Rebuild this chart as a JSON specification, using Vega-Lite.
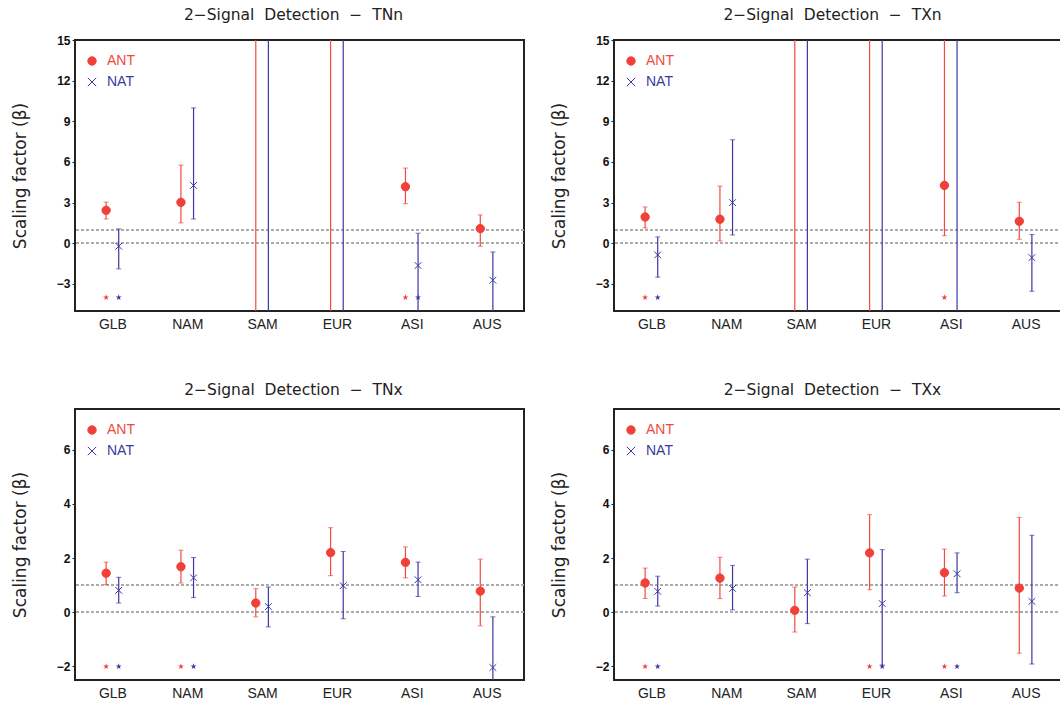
{
  "$schema": "https://vega.github.io/schema/vega-lite/v6.json",
  "background": "white",
  "padding": {"left": 10, "top": 6, "right": 0, "bottom": 0},
  "config": {
    "font": "Liberation Sans",
    "view": {"stroke": "#222", "strokeWidth": 2},
    "axisY": {"tickSize": 3, "tickColor": "#222", "tickWidth": 1, "labelFont": "Liberation Sans", "labelFontWeight": "bold", "labelFontSize": 12, "labelColor": "#111", "labelPadding": 2, "domain": false, "grid": false, "titleFont": "DejaVu Sans", "titleFontSize": 17, "titleFontWeight": "normal", "titleColor": "#222", "titlePadding": 27},
    "axisX": {"ticks": false, "domain": false, "grid": false, "labelFont": "Liberation Sans", "labelFontSize": 14, "labelColor": "#222", "labelPadding": 6, "labelAngle": 0},
    "title": {"font": "DejaVu Sans", "fontSize": 15.5, "fontWeight": "normal", "color": "#222", "offset": 11, "dx": -6},
    "legend": {"title": null, "orient": "none", "legendX": 10, "legendY": 14, "symbolSize": 70, "symbolStrokeWidth": 1, "labelFontSize": 14, "labelFont": "Liberation Sans", "labelOffset": 8, "rowPadding": 7, "padding": 0, "labelColor": {"expr": "datum.value === 'ANT' ? '#f04a40' : '#3c38a0'"}}
  },
  "datasets": {
    "d": [
      {"panel": "TNn", "region": "GLB", "series": "ANT", "beta": 2.43, "lo": 1.79, "hi": 3.04, "sig": true},
      {"panel": "TNn", "region": "GLB", "series": "NAT", "beta": -0.22, "lo": -1.89, "hi": 1.06, "sig": true},
      {"panel": "TNn", "region": "NAM", "series": "ANT", "beta": 3.02, "lo": 1.5, "hi": 5.77, "sig": false},
      {"panel": "TNn", "region": "NAM", "series": "NAT", "beta": 4.27, "lo": 1.79, "hi": 9.99, "sig": false},
      {"panel": "TNn", "region": "SAM", "series": "ANT", "beta": null, "lo": -50, "hi": 50, "sig": false},
      {"panel": "TNn", "region": "SAM", "series": "NAT", "beta": null, "lo": -50, "hi": 50, "sig": false},
      {"panel": "TNn", "region": "EUR", "series": "ANT", "beta": null, "lo": -50, "hi": 50, "sig": false},
      {"panel": "TNn", "region": "EUR", "series": "NAT", "beta": null, "lo": -50, "hi": 50, "sig": false},
      {"panel": "TNn", "region": "ASI", "series": "ANT", "beta": 4.17, "lo": 2.92, "hi": 5.55, "sig": true},
      {"panel": "TNn", "region": "ASI", "series": "NAT", "beta": -1.64, "lo": -8, "hi": 0.74, "sig": true},
      {"panel": "TNn", "region": "AUS", "series": "ANT", "beta": 1.08, "lo": -0.22, "hi": 2.09, "sig": false},
      {"panel": "TNn", "region": "AUS", "series": "NAT", "beta": -2.73, "lo": -8, "hi": -0.64, "sig": false},

      {"panel": "TXn", "region": "GLB", "series": "ANT", "beta": 1.94, "lo": 1.13, "hi": 2.68, "sig": true},
      {"panel": "TXn", "region": "GLB", "series": "NAT", "beta": -0.86, "lo": -2.5, "hi": 0.47, "sig": true},
      {"panel": "TXn", "region": "NAM", "series": "ANT", "beta": 1.77, "lo": 0.17, "hi": 4.22, "sig": false},
      {"panel": "TXn", "region": "NAM", "series": "NAT", "beta": 3.0, "lo": 0.61, "hi": 7.64, "sig": false},
      {"panel": "TXn", "region": "SAM", "series": "ANT", "beta": null, "lo": -50, "hi": 50, "sig": false},
      {"panel": "TXn", "region": "SAM", "series": "NAT", "beta": null, "lo": -50, "hi": 50, "sig": false},
      {"panel": "TXn", "region": "EUR", "series": "ANT", "beta": null, "lo": -50, "hi": 50, "sig": false},
      {"panel": "TXn", "region": "EUR", "series": "NAT", "beta": null, "lo": -50, "hi": 50, "sig": false},
      {"panel": "TXn", "region": "ASI", "series": "ANT", "beta": 4.27, "lo": 0.56, "hi": 50, "sig": true},
      {"panel": "TXn", "region": "ASI", "series": "NAT", "beta": null, "lo": -50, "hi": 50, "sig": false},
      {"panel": "TXn", "region": "AUS", "series": "ANT", "beta": 1.62, "lo": 0.29, "hi": 3.02, "sig": false},
      {"panel": "TXn", "region": "AUS", "series": "NAT", "beta": -1.06, "lo": -3.54, "hi": 0.64, "sig": false},

      {"panel": "TNx", "region": "GLB", "series": "ANT", "beta": 1.44, "lo": 1.02, "hi": 1.85, "sig": true},
      {"panel": "TNx", "region": "GLB", "series": "NAT", "beta": 0.81, "lo": 0.34, "hi": 1.29, "sig": true},
      {"panel": "TNx", "region": "NAM", "series": "ANT", "beta": 1.68, "lo": 1.08, "hi": 2.29, "sig": true},
      {"panel": "TNx", "region": "NAM", "series": "NAT", "beta": 1.27, "lo": 0.54, "hi": 2.02, "sig": true},
      {"panel": "TNx", "region": "SAM", "series": "ANT", "beta": 0.34, "lo": -0.17, "hi": 0.87, "sig": false},
      {"panel": "TNx", "region": "SAM", "series": "NAT", "beta": 0.21, "lo": -0.54, "hi": 0.93, "sig": false},
      {"panel": "TNx", "region": "EUR", "series": "ANT", "beta": 2.2, "lo": 1.35, "hi": 3.12, "sig": false},
      {"panel": "TNx", "region": "EUR", "series": "NAT", "beta": 0.98, "lo": -0.24, "hi": 2.24, "sig": false},
      {"panel": "TNx", "region": "ASI", "series": "ANT", "beta": 1.84, "lo": 1.27, "hi": 2.41, "sig": false},
      {"panel": "TNx", "region": "ASI", "series": "NAT", "beta": 1.2, "lo": 0.58, "hi": 1.85, "sig": false},
      {"panel": "TNx", "region": "AUS", "series": "ANT", "beta": 0.78, "lo": -0.5, "hi": 1.96, "sig": false},
      {"panel": "TNx", "region": "AUS", "series": "NAT", "beta": -2.04, "lo": -4, "hi": -0.17, "sig": false},

      {"panel": "TXx", "region": "GLB", "series": "ANT", "beta": 1.08, "lo": 0.51, "hi": 1.63, "sig": true},
      {"panel": "TXx", "region": "GLB", "series": "NAT", "beta": 0.77, "lo": 0.23, "hi": 1.33, "sig": true},
      {"panel": "TXx", "region": "NAM", "series": "ANT", "beta": 1.26, "lo": 0.5, "hi": 2.03, "sig": false},
      {"panel": "TXx", "region": "NAM", "series": "NAT", "beta": 0.88, "lo": 0.09, "hi": 1.73, "sig": false},
      {"panel": "TXx", "region": "SAM", "series": "ANT", "beta": 0.07, "lo": -0.73, "hi": 0.93, "sig": false},
      {"panel": "TXx", "region": "SAM", "series": "NAT", "beta": 0.72, "lo": -0.42, "hi": 1.96, "sig": false},
      {"panel": "TXx", "region": "EUR", "series": "ANT", "beta": 2.19, "lo": 0.83, "hi": 3.6, "sig": true},
      {"panel": "TXx", "region": "EUR", "series": "NAT", "beta": 0.32, "lo": -1.95, "hi": 2.31, "sig": true},
      {"panel": "TXx", "region": "ASI", "series": "ANT", "beta": 1.46, "lo": 0.6, "hi": 2.33, "sig": true},
      {"panel": "TXx", "region": "ASI", "series": "NAT", "beta": 1.42, "lo": 0.72, "hi": 2.19, "sig": true},
      {"panel": "TXx", "region": "AUS", "series": "ANT", "beta": 0.89, "lo": -1.51, "hi": 3.5, "sig": false},
      {"panel": "TXx", "region": "AUS", "series": "NAT", "beta": 0.4, "lo": -1.91, "hi": 2.84, "sig": false}
    ]
  },
  "resolve": {
    "scale": {"x": "independent", "y": "independent", "xOffset": "independent", "color": "independent", "shape": "independent"},
    "legend": {"color": "independent", "shape": "independent"}
  },
  "columns": 2,
  "spacing": {"column": 23, "row": 49},
  "concat": [
    {
      "title": {"text": "2−Signal\u00a0 Detection\u00a0 −\u00a0 TNn"},
      "width": 449, "height": 271,
      "data": {"name": "d"},
      "transform": [{"filter": "datum.panel === 'TNn'"}],
      "encoding": {
        "x": {"field": "region", "type": "nominal", "sort": ["GLB", "NAM", "SAM", "EUR", "ASI", "AUS"], "scale": {"type": "point", "padding": 0.5}, "axis": {"title": null}},
        "xOffset": {"field": "series", "type": "nominal", "scale": {"type": "point", "domain": ["ANT", "NAT"], "range": [-6.3, 6.3], "padding": 0}}
      },
      "layer": [
        {"mark": {"type": "rule", "strokeDash": [3, 2], "color": "#aaa", "strokeWidth": 1}, "encoding": {"x": null, "xOffset": null, "y": {"datum": 0, "type": "quantitative", "scale": {"domain": [-5, 15], "nice": false, "zero": false}, "axis": {"values": [-3, 0, 3, 6, 9, 12, 15], "title": "Scaling factor (β)"}}}},
        {"mark": {"type": "rule", "strokeDash": [3, 2], "color": "#aaa", "strokeWidth": 1}, "encoding": {"x": null, "xOffset": null, "y": {"datum": 1, "type": "quantitative"}}},
        {"mark": {"type": "rule", "strokeWidth": 1.2, "clip": true}, "encoding": {"y": {"field": "lo", "type": "quantitative"}, "y2": {"field": "hi"}, "color": {"condition": {"test": "datum.series === 'ANT'", "value": "#f04a40"}, "value": "#3c38a0"}}},
        {"mark": {"type": "tick", "size": 5, "thickness": 1, "clip": true}, "encoding": {"y": {"field": "lo", "type": "quantitative"}, "color": {"condition": {"test": "datum.series === 'ANT'", "value": "#f04a40"}, "value": "#3c38a0"}}},
        {"mark": {"type": "tick", "size": 5, "thickness": 1, "clip": true}, "encoding": {"y": {"field": "hi", "type": "quantitative"}, "color": {"condition": {"test": "datum.series === 'ANT'", "value": "#f04a40"}, "value": "#3c38a0"}}},
        {"transform": [{"filter": "datum.sig"}], "mark": {"type": "point", "shape": "M0,-1L0.2245,-0.309L0.951,-0.309L0.363,0.118L0.588,0.809L0,0.382L-0.588,0.809L-0.363,0.118L-0.951,-0.309L-0.2245,-0.309Z", "filled": true, "size": 40, "opacity": 1}, "encoding": {"y": {"datum": -4, "type": "quantitative"}, "color": {"condition": {"test": "datum.series === 'ANT'", "value": "#f04038"}, "value": "#3c38a0"}}},
        {"mark": {"type": "point", "filled": false, "strokeWidth": 1, "opacity": 1, "clip": true}, "encoding": {
          "y": {"field": "beta", "type": "quantitative"},
          "shape": {"field": "series", "type": "nominal", "scale": {"domain": ["ANT", "NAT"], "range": ["circle", "M-1,-1L1,1M-1,1L1,-1"]}, "legend": {"encode": {"symbols": {"fill": {"value": "#f04038"}}}}},
          "color": {"field": "series", "type": "nominal", "scale": {"domain": ["ANT", "NAT"], "range": ["#f04038", "#3c38a0"]}, "legend": {"encode": {"symbols": {"fill": {"value": "#f04038"}}}}},
          "fill": {"value": "#f04038"},
          "size": {"condition": {"test": "datum.series === 'ANT'", "value": 70}, "value": 45}
        }}
      ]
    },
    {
      "title": {"text": "2−Signal\u00a0 Detection\u00a0 −\u00a0 TXn"},
      "width": 449, "height": 271,
      "data": {"name": "d"},
      "transform": [{"filter": "datum.panel === 'TXn'"}],
      "encoding": {
        "x": {"field": "region", "type": "nominal", "sort": ["GLB", "NAM", "SAM", "EUR", "ASI", "AUS"], "scale": {"type": "point", "padding": 0.5}, "axis": {"title": null}},
        "xOffset": {"field": "series", "type": "nominal", "scale": {"type": "point", "domain": ["ANT", "NAT"], "range": [-6.3, 6.3], "padding": 0}}
      },
      "layer": [
        {"mark": {"type": "rule", "strokeDash": [3, 2], "color": "#aaa", "strokeWidth": 1}, "encoding": {"x": null, "xOffset": null, "y": {"datum": 0, "type": "quantitative", "scale": {"domain": [-5, 15], "nice": false, "zero": false}, "axis": {"values": [-3, 0, 3, 6, 9, 12, 15], "title": "Scaling factor (β)"}}}},
        {"mark": {"type": "rule", "strokeDash": [3, 2], "color": "#aaa", "strokeWidth": 1}, "encoding": {"x": null, "xOffset": null, "y": {"datum": 1, "type": "quantitative"}}},
        {"mark": {"type": "rule", "strokeWidth": 1.2, "clip": true}, "encoding": {"y": {"field": "lo", "type": "quantitative"}, "y2": {"field": "hi"}, "color": {"condition": {"test": "datum.series === 'ANT'", "value": "#f04a40"}, "value": "#3c38a0"}}},
        {"mark": {"type": "tick", "size": 5, "thickness": 1, "clip": true}, "encoding": {"y": {"field": "lo", "type": "quantitative"}, "color": {"condition": {"test": "datum.series === 'ANT'", "value": "#f04a40"}, "value": "#3c38a0"}}},
        {"mark": {"type": "tick", "size": 5, "thickness": 1, "clip": true}, "encoding": {"y": {"field": "hi", "type": "quantitative"}, "color": {"condition": {"test": "datum.series === 'ANT'", "value": "#f04a40"}, "value": "#3c38a0"}}},
        {"transform": [{"filter": "datum.sig"}], "mark": {"type": "point", "shape": "M0,-1L0.2245,-0.309L0.951,-0.309L0.363,0.118L0.588,0.809L0,0.382L-0.588,0.809L-0.363,0.118L-0.951,-0.309L-0.2245,-0.309Z", "filled": true, "size": 40, "opacity": 1}, "encoding": {"y": {"datum": -4, "type": "quantitative"}, "color": {"condition": {"test": "datum.series === 'ANT'", "value": "#f04038"}, "value": "#3c38a0"}}},
        {"mark": {"type": "point", "filled": false, "strokeWidth": 1, "opacity": 1, "clip": true}, "encoding": {
          "y": {"field": "beta", "type": "quantitative"},
          "shape": {"field": "series", "type": "nominal", "scale": {"domain": ["ANT", "NAT"], "range": ["circle", "M-1,-1L1,1M-1,1L1,-1"]}, "legend": {"encode": {"symbols": {"fill": {"value": "#f04038"}}}}},
          "color": {"field": "series", "type": "nominal", "scale": {"domain": ["ANT", "NAT"], "range": ["#f04038", "#3c38a0"]}, "legend": {"encode": {"symbols": {"fill": {"value": "#f04038"}}}}},
          "fill": {"value": "#f04038"},
          "size": {"condition": {"test": "datum.series === 'ANT'", "value": 70}, "value": 45}
        }}
      ]
    },
    {
      "title": {"text": "2−Signal\u00a0 Detection\u00a0 −\u00a0 TNx"},
      "width": 449, "height": 271,
      "data": {"name": "d"},
      "transform": [{"filter": "datum.panel === 'TNx'"}],
      "encoding": {
        "x": {"field": "region", "type": "nominal", "sort": ["GLB", "NAM", "SAM", "EUR", "ASI", "AUS"], "scale": {"type": "point", "padding": 0.5}, "axis": {"title": null}},
        "xOffset": {"field": "series", "type": "nominal", "scale": {"type": "point", "domain": ["ANT", "NAT"], "range": [-6.3, 6.3], "padding": 0}}
      },
      "layer": [
        {"mark": {"type": "rule", "strokeDash": [3, 2], "color": "#aaa", "strokeWidth": 1}, "encoding": {"x": null, "xOffset": null, "y": {"datum": 0, "type": "quantitative", "scale": {"domain": [-2.5, 7.5], "nice": false, "zero": false}, "axis": {"values": [-2, 0, 2, 4, 6], "title": "Scaling factor (β)"}}}},
        {"mark": {"type": "rule", "strokeDash": [3, 2], "color": "#aaa", "strokeWidth": 1}, "encoding": {"x": null, "xOffset": null, "y": {"datum": 1, "type": "quantitative"}}},
        {"mark": {"type": "rule", "strokeWidth": 1.2, "clip": true}, "encoding": {"y": {"field": "lo", "type": "quantitative"}, "y2": {"field": "hi"}, "color": {"condition": {"test": "datum.series === 'ANT'", "value": "#f04a40"}, "value": "#3c38a0"}}},
        {"mark": {"type": "tick", "size": 5, "thickness": 1, "clip": true}, "encoding": {"y": {"field": "lo", "type": "quantitative"}, "color": {"condition": {"test": "datum.series === 'ANT'", "value": "#f04a40"}, "value": "#3c38a0"}}},
        {"mark": {"type": "tick", "size": 5, "thickness": 1, "clip": true}, "encoding": {"y": {"field": "hi", "type": "quantitative"}, "color": {"condition": {"test": "datum.series === 'ANT'", "value": "#f04a40"}, "value": "#3c38a0"}}},
        {"transform": [{"filter": "datum.sig"}], "mark": {"type": "point", "shape": "M0,-1L0.2245,-0.309L0.951,-0.309L0.363,0.118L0.588,0.809L0,0.382L-0.588,0.809L-0.363,0.118L-0.951,-0.309L-0.2245,-0.309Z", "filled": true, "size": 40, "opacity": 1}, "encoding": {"y": {"datum": -2, "type": "quantitative"}, "color": {"condition": {"test": "datum.series === 'ANT'", "value": "#f04038"}, "value": "#3c38a0"}}},
        {"mark": {"type": "point", "filled": false, "strokeWidth": 1, "opacity": 1, "clip": true}, "encoding": {
          "y": {"field": "beta", "type": "quantitative"},
          "shape": {"field": "series", "type": "nominal", "scale": {"domain": ["ANT", "NAT"], "range": ["circle", "M-1,-1L1,1M-1,1L1,-1"]}, "legend": {"encode": {"symbols": {"fill": {"value": "#f04038"}}}}},
          "color": {"field": "series", "type": "nominal", "scale": {"domain": ["ANT", "NAT"], "range": ["#f04038", "#3c38a0"]}, "legend": {"encode": {"symbols": {"fill": {"value": "#f04038"}}}}},
          "fill": {"value": "#f04038"},
          "size": {"condition": {"test": "datum.series === 'ANT'", "value": 70}, "value": 45}
        }}
      ]
    },
    {
      "title": {"text": "2−Signal\u00a0 Detection\u00a0 −\u00a0 TXx"},
      "width": 449, "height": 271,
      "data": {"name": "d"},
      "transform": [{"filter": "datum.panel === 'TXx'"}],
      "encoding": {
        "x": {"field": "region", "type": "nominal", "sort": ["GLB", "NAM", "SAM", "EUR", "ASI", "AUS"], "scale": {"type": "point", "padding": 0.5}, "axis": {"title": null}},
        "xOffset": {"field": "series", "type": "nominal", "scale": {"type": "point", "domain": ["ANT", "NAT"], "range": [-6.3, 6.3], "padding": 0}}
      },
      "layer": [
        {"mark": {"type": "rule", "strokeDash": [3, 2], "color": "#aaa", "strokeWidth": 1}, "encoding": {"x": null, "xOffset": null, "y": {"datum": 0, "type": "quantitative", "scale": {"domain": [-2.5, 7.5], "nice": false, "zero": false}, "axis": {"values": [-2, 0, 2, 4, 6], "title": "Scaling factor (β)"}}}},
        {"mark": {"type": "rule", "strokeDash": [3, 2], "color": "#aaa", "strokeWidth": 1}, "encoding": {"x": null, "xOffset": null, "y": {"datum": 1, "type": "quantitative"}}},
        {"mark": {"type": "rule", "strokeWidth": 1.2, "clip": true}, "encoding": {"y": {"field": "lo", "type": "quantitative"}, "y2": {"field": "hi"}, "color": {"condition": {"test": "datum.series === 'ANT'", "value": "#f04a40"}, "value": "#3c38a0"}}},
        {"mark": {"type": "tick", "size": 5, "thickness": 1, "clip": true}, "encoding": {"y": {"field": "lo", "type": "quantitative"}, "color": {"condition": {"test": "datum.series === 'ANT'", "value": "#f04a40"}, "value": "#3c38a0"}}},
        {"mark": {"type": "tick", "size": 5, "thickness": 1, "clip": true}, "encoding": {"y": {"field": "hi", "type": "quantitative"}, "color": {"condition": {"test": "datum.series === 'ANT'", "value": "#f04a40"}, "value": "#3c38a0"}}},
        {"transform": [{"filter": "datum.sig"}], "mark": {"type": "point", "shape": "M0,-1L0.2245,-0.309L0.951,-0.309L0.363,0.118L0.588,0.809L0,0.382L-0.588,0.809L-0.363,0.118L-0.951,-0.309L-0.2245,-0.309Z", "filled": true, "size": 40, "opacity": 1}, "encoding": {"y": {"datum": -2, "type": "quantitative"}, "color": {"condition": {"test": "datum.series === 'ANT'", "value": "#f04038"}, "value": "#3c38a0"}}},
        {"mark": {"type": "point", "filled": false, "strokeWidth": 1, "opacity": 1, "clip": true}, "encoding": {
          "y": {"field": "beta", "type": "quantitative"},
          "shape": {"field": "series", "type": "nominal", "scale": {"domain": ["ANT", "NAT"], "range": ["circle", "M-1,-1L1,1M-1,1L1,-1"]}, "legend": {"encode": {"symbols": {"fill": {"value": "#f04038"}}}}},
          "color": {"field": "series", "type": "nominal", "scale": {"domain": ["ANT", "NAT"], "range": ["#f04038", "#3c38a0"]}, "legend": {"encode": {"symbols": {"fill": {"value": "#f04038"}}}}},
          "fill": {"value": "#f04038"},
          "size": {"condition": {"test": "datum.series === 'ANT'", "value": 70}, "value": 45}
        }}
      ]
    }
  ]
}
